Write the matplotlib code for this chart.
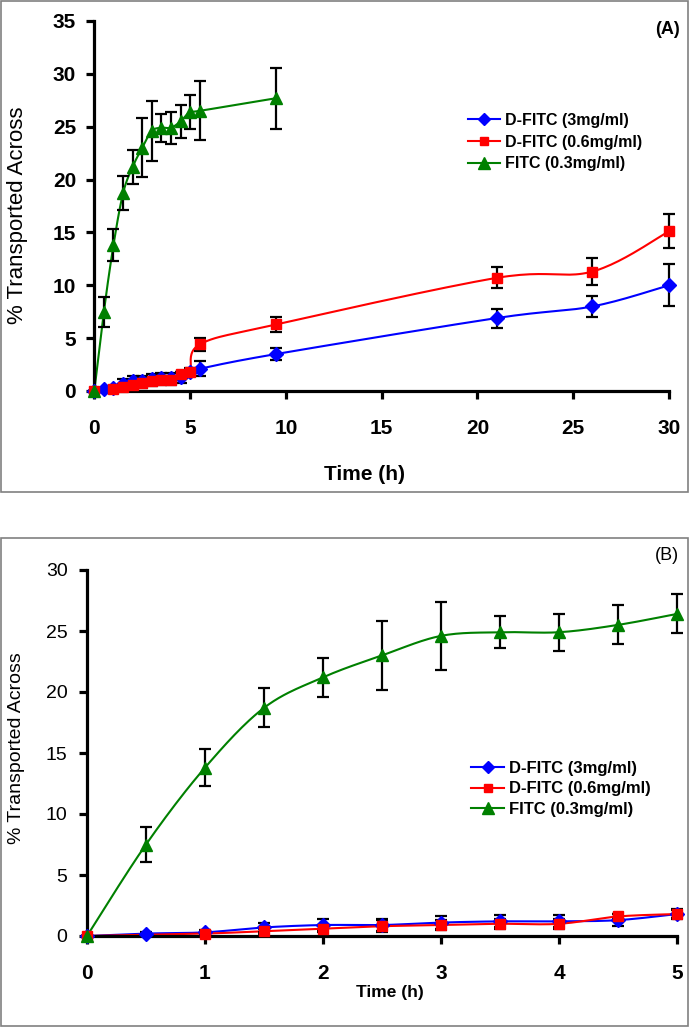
import numpy as np
import matplotlib
matplotlib.use("Agg")
import matplotlib.pyplot as plt
from matplotlib.patches import Rectangle

plt.rcParams["font.family"] = ["Liberation Sans", "DejaVu Sans"]

# Data (hours, % transported across)
t_blue = [0, 0.5, 1, 1.5, 2, 2.5, 3, 3.5, 4, 4.5, 5, 5.5, 9.5, 21, 26, 30]
y_blue = [0, 0.2, 0.3, 0.7, 0.9, 0.9, 1.1, 1.2, 1.2, 1.3, 1.8, 2.1, 3.5, 6.9, 8.0, 10.0]
e_blue = [0, 0.1, 0.2, 0.4, 0.5, 0.5, 0.5, 0.5, 0.5, 0.5, 0.4, 0.7, 0.6, 0.9, 1.0, 2.0]

t_red = [0, 1, 1.5, 2, 2.5, 3, 3.5, 4, 4.5, 5, 5.5, 9.5, 21, 26, 30]
y_red = [0, 0.2, 0.4, 0.6, 0.8, 0.9, 1.0, 1.0, 1.6, 1.8, 4.4, 6.3, 10.7, 11.3, 15.1]
e_red = [0, 0.1, 0.2, 0.3, 0.5, 0.4, 0.4, 0.4, 0.2, 0.3, 0.6, 0.7, 1.0, 1.3, 1.6]

t_green = [0, 0.5, 1, 1.5, 2, 2.5, 3, 3.5, 4, 4.5, 5, 5.5, 9.5]
y_green = [0, 7.5, 13.8, 18.7, 21.2, 23.0, 24.6, 24.9, 24.9, 25.5, 26.4, 26.5, 27.7]
e_green = [0, 1.4, 1.5, 1.6, 1.6, 2.8, 2.8, 1.3, 1.5, 1.6, 1.6, 2.8, 2.9]

series = [
    ("D-FITC (3mg/ml)", t_blue, y_blue, e_blue, "#0000FF", "D", 7),
    ("D-FITC (0.6mg/ml)", t_red, y_red, e_red, "#FF0000", "s", 7),
    ("FITC (0.3mg/ml)", t_green, y_green, e_green, "#008000", "^", 9),
]

W, H = 689, 1028


def smooth(x, y, n=24):
    # Excel-like smoothed line (Catmull-Rom through the points)
    pts = np.column_stack([x, y]).astype(float)
    P = np.vstack([pts[0], pts, pts[-1]])
    out = []
    s = np.linspace(0, 1, n, endpoint=False)[:, None]
    for i in range(1, len(P) - 2):
        p0, p1, p2, p3 = P[i - 1], P[i], P[i + 1], P[i + 2]
        seg = 0.5 * (2 * p1 + (-p0 + p2) * s
                     + (2 * p0 - 5 * p1 + 4 * p2 - p3) * s ** 2
                     + (-p0 + 3 * p1 - 3 * p2 + p3) * s ** 3)
        out.append(seg)
    out.append(pts[-1:])
    c = np.vstack(out)
    return c[:, 0], c[:, 1]


def draw(ax, tmax):
    for label, t, y, e, col, mk, ms in series:
        t = np.array(t); y = np.array(y); e = np.array(e)
        m = t <= tmax
        sx, sy = smooth(t[m], y[m])
        ax.plot(sx, sy, color=col, lw=1.5, zorder=2)
        ax.errorbar(t[m], y[m], yerr=e[m], fmt="none", ecolor="black",
                    elinewidth=1.6, capsize=4, capthick=1.6, zorder=3, clip_on=False)
        ax.plot(t[m], y[m], ls="none", marker=mk, ms=ms, color=col, zorder=4, clip_on=False)
        ax.plot([], [], color=col, lw=1.5, marker=mk, ms=ms - 1, label=label)
    for s in ["top", "right"]:
        ax.spines[s].set_visible(False)
    for s in ["left", "bottom"]:
        ax.spines[s].set_linewidth(2.3)
    ax.tick_params(width=2.3, length=6, direction="out")


def px(x, y):
    return x / W, 1 - y / H


fig = plt.figure(figsize=(6.89, 10.28), dpi=100)

# panel frames
fig.patches.append(Rectangle(px(1, 492), 687 / W, 491 / H, transform=fig.transFigure,
                             fill=False, edgecolor="#808080", lw=1.2))
fig.patches.append(Rectangle(px(1, 1026), 687 / W, 488 / H, transform=fig.transFigure,
                             fill=False, edgecolor="#808080", lw=1.2))

# (A)
ax1 = fig.add_axes([94.3 / W, 1 - 391 / H, 574.7 / W, 370 / H])
draw(ax1, 30)
ax1.set_xlim(0, 30)
ax1.set_ylim(0, 35)
ax1.set_xticks(range(0, 31, 5))
ax1.set_yticks(range(0, 36, 5))
for lb in ax1.get_xticklabels() + ax1.get_yticklabels():
    lb.set_fontweight("bold")
    lb.set_fontsize(15)
ax1.tick_params(axis="x", pad=14)
ax1.tick_params(axis="y", pad=7)
fig.text(*px(365, 475), "Time (h)", fontsize=15, fontweight="bold", ha="center", va="center")
fig.text(*px(18, 215), "% Transported Across", fontsize=16, rotation=90, ha="center", va="center")
fig.text(*px(680, 30), "(A)", fontsize=13, fontweight="bold", ha="right", va="center")
ax1.legend(loc="upper left", bbox_to_anchor=px(468, 113), bbox_transform=fig.transFigure,
           frameon=False, prop={"weight": "bold", "size": 11.5}, handlelength=2.0,
           handletextpad=0.3, labelspacing=0.42, borderpad=0, borderaxespad=0)

# (B)
ax2 = fig.add_axes([87 / W, 1 - 936 / H, 590 / W, 366 / H])
draw(ax2, 5)
ax2.set_xlim(0, 5)
ax2.set_ylim(0, 30)
ax2.set_xticks(range(0, 6))
ax2.set_yticks(range(0, 31, 5))
for lb in ax2.get_xticklabels():
    lb.set_fontweight("bold")
    lb.set_fontsize(15)
for lb in ax2.get_yticklabels():
    lb.set_fontsize(14)
ax2.tick_params(axis="x", pad=14)
ax2.tick_params(axis="y", pad=8)
fig.text(*px(390, 993), "Time (h)", fontsize=12.5, fontweight="bold", ha="center", va="center")
fig.text(*px(17, 748), "% Transported Across", fontsize=14, rotation=90, ha="center", va="center")
fig.text(*px(679, 556), "(B)", fontsize=13, ha="right", va="center")
ax2.legend(loc="upper left", bbox_to_anchor=px(471, 761), bbox_transform=fig.transFigure,
           frameon=False, prop={"weight": "bold", "size": 12}, handlelength=2.0,
           handletextpad=0.3, labelspacing=0.33, borderpad=0, borderaxespad=0)

fig.savefig("out.png", dpi=100)
